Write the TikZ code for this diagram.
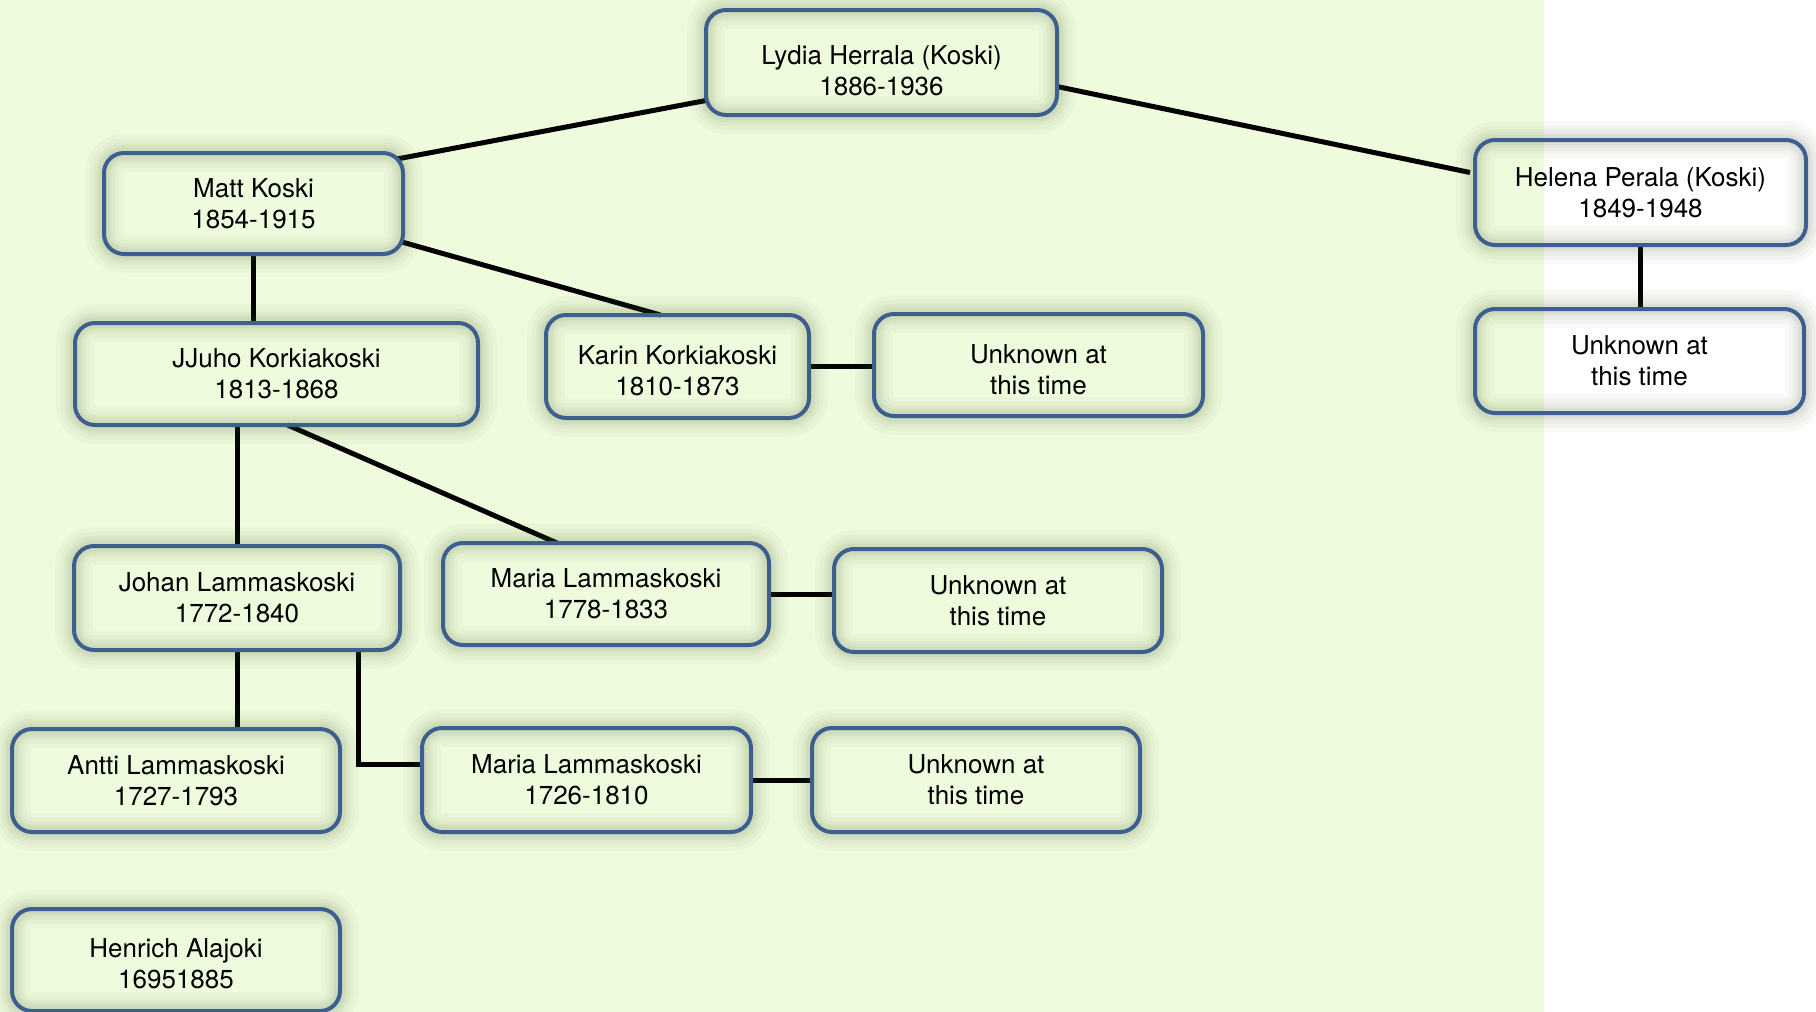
\documentclass[tikz,border=0pt]{standalone}
\usepackage{fontspec}
\setmainfont{TeX Gyre Heros}
\usetikzlibrary{calc,backgrounds}
\definecolor{bgc}{HTML}{EEFBDD}
\definecolor{nodeborder}{HTML}{3D5F8F}
\definecolor{shadowc}{HTML}{4A5A30}
\newcommand{\tdn}[1]{\rule{0pt}{#1}}
\tikzset{
  person/.style={draw=nodeborder, line width=4pt, rounded corners=20pt,
    align=center, outer sep=0pt, inner sep=0pt,
    font=\fontsize{26}{31}\selectfont, text=black,
    preaction={draw=shadowc, draw opacity=0.035, line width=38pt},
    preaction={draw=shadowc, draw opacity=0.035, line width=29pt},
    preaction={draw=shadowc, draw opacity=0.04, line width=21pt},
    preaction={draw=shadowc, draw opacity=0.045, line width=15pt},
    preaction={draw=shadowc, draw opacity=0.05, line width=10pt}},
  link/.style={draw=black, line width=5pt}
}
\begin{document}
\begin{tikzpicture}[x=1pt,y=-1pt]
\useasboundingbox (0,0) rectangle (1816,1012);
\begin{scope}[on background layer]
\fill[white] (0,0) rectangle (1816,1012);
\fill[bgc] (0,0) rectangle (1544,1012);
\end{scope}

\node[person, minimum width=351pt, minimum height=105pt] (lydia) at (881.5,62.5) {\tdn{35pt}Lydia Herrala (Koski)\\1886-1936};
\node[person, minimum width=299pt, minimum height=101pt] (matt) at (253.5,203.5) {Matt Koski\\1854-1915};
\node[person, minimum width=331pt, minimum height=105pt] (helena) at (1640.5,192.5) {Helena Perala (Koski)\\1849-1948};
\node[person, minimum width=329pt, minimum height=104pt] (unkH) at (1639.5,361) {Unknown at\\this time};
\node[person, minimum width=403pt, minimum height=102pt] (juho) at (276.5,374) {JJuho Korkiakoski\\1813-1868};
\node[person, minimum width=263pt, minimum height=103pt] (karin) at (677.5,366.5) {\tdn{28pt}Karin Korkiakoski\\1810-1873};
\node[person, minimum width=329pt, minimum height=102pt] (unkK) at (1038.5,365) {\tdn{28pt}Unknown at\\this time};
\node[person, minimum width=326pt, minimum height=104pt] (johan) at (237,598) {Johan Lammaskoski\\1772-1840};
\node[person, minimum width=326pt, minimum height=102pt] (maria1) at (606,594) {Maria Lammaskoski\\1778-1833};
\node[person, minimum width=328pt, minimum height=103pt] (unkM1) at (998,600.5) {Unknown at\\this time};
\node[person, minimum width=328pt, minimum height=103pt] (antti) at (176,780.5) {Antti Lammaskoski\\1727-1793};
\node[person, minimum width=329pt, minimum height=104pt] (maria2) at (586.5,780) {Maria Lammaskoski\\1726-1810};
\node[person, minimum width=328pt, minimum height=104pt] (unkM2) at (976,780) {Unknown at\\this time};
\node[person, minimum width=328pt, minimum height=102pt] (henrich) at (176,960) {\tdn{27pt}Henrich Alajoki\\16951885};

\begin{scope}[on background layer]
\draw[link] ($(lydia.west)+(0,38)$) -- ($(matt.north east)+(-6,6)$);
\draw[link] ($(lydia.east)+(0,24)$) -- ($(helena.west)+(-5,-20)$);
\draw[link] (matt.south) -- (matt.south |- juho.north);
\draw[link] ($(matt.south east)+(-1,-12)$) -- ($(karin.north)+(-17,0)$);
\draw[link] (karin.east) -- (karin.east -| unkK.west);
\draw[link] (helena.south) -- (helena.south |- unkH.north);
\draw[link] (johan.north) -- (johan.north |- juho.south);
\draw[link] ($(juho.south)+(11,0)$) -- ($(maria1.north)+(-49,0)$);
\draw[link] (maria1.east) -- (maria1.east -| unkM1.west);
\draw[link] (johan.south) -- (johan.south |- antti.north);
\draw[link] ($(johan.south)+(121,0)$) |- ($(maria2.west)+(0,-16)$);
\draw[link] (maria2.east) -- (maria2.east -| unkM2.west);
\end{scope}
\end{tikzpicture}
\end{document}
